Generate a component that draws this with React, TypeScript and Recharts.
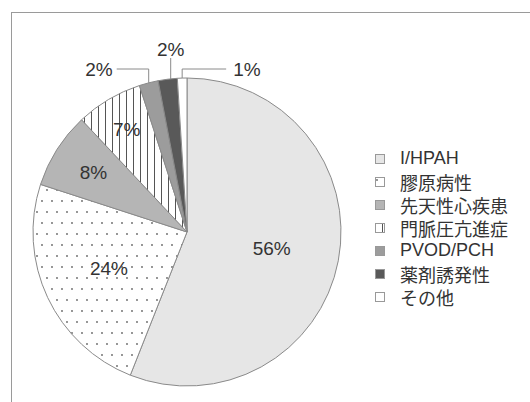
import { PieChart, Pie, Cell, Legend } from "recharts"

const categories = ["I/HPAH", "膠原病性", "先天性心疾患", "門脈圧亢進症", "PVOD/PCH", "薬剤誘発性", "その他"]
const shares = [56, 24, 8, 7, 2, 2, 1]

const fills = ["#e6e6e6", "url(#dots)", "#b5b5b5", "url(#stripes)", "#9c9c9c", "#595959", "#ffffff"]

const data = categories.map((name, i) => ({ name, value: shares[i] }))

const FONT = '"Liberation Sans", Arial, "Noto Sans CJK JP", sans-serif'
const RAD = Math.PI / 180
const insideRadius = [0.56, 0.56, 0.72, 0.77]

function renderLabel(props: any) {
  const { cx, cy, midAngle, outerRadius, index, value } = props
  const text = `${value}%`
  const style = { fontFamily: FONT, fontSize: 19, fill: "#333" }
  if (index < insideRadius.length) {
    const r = outerRadius * insideRadius[index]
    const x = cx + r * Math.cos(-midAngle * RAD)
    const y = cy + r * Math.sin(-midAngle * RAD)
    return (
      <text x={x} y={y} textAnchor="middle" dominantBaseline="central" style={style}>
        {text}
      </text>
    )
  }
  const px = cx + outerRadius * Math.cos(-midAngle * RAD)
  const py = cy + outerRadius * Math.sin(-midAngle * RAD)
  const elbowY = cy - outerRadius - 9
  if (index === 4) {
    const ex = px - 32
    return (
      <g>
        <polyline points={`${px},${py} ${px},${elbowY} ${ex},${elbowY}`} fill="none" stroke="#8a8a8a" />
        <text x={ex - 4} y={elbowY} textAnchor="end" dominantBaseline="central" style={style}>{text}</text>
      </g>
    )
  }
  if (index === 5) {
    const ey = cy - outerRadius - 20
    return (
      <g>
        <line x1={px + 3} y1={py} x2={px + 3} y2={ey} stroke="#8a8a8a" />
        <text x={px + 3} y={ey - 9} textAnchor="middle" dominantBaseline="central" style={style}>{text}</text>
      </g>
    )
  }
  const ex = px + 44
  return (
    <g>
      <polyline points={`${px},${py} ${px},${elbowY} ${ex},${elbowY}`} fill="none" stroke="#8a8a8a" />
      <text x={ex + 7} y={elbowY} textAnchor="start" dominantBaseline="central" style={style}>{text}</text>
    </g>
  )
}

function LegendList(props: any) {
  const items = [...(props.payload || [])].sort(
    (a: any, b: any) => categories.indexOf(a.value) - categories.indexOf(b.value)
  )
  return (
    <div style={{ fontFamily: FONT, fontSize: 18, color: "#333" }}>
      {items.map((it: any) => {
        const i = categories.indexOf(it.value)
        return (
          <div key={it.value} style={{ display: "flex", alignItems: "center", height: 23 }}>
            <svg width={10} height={10} style={{ marginRight: 15 }}>
              <rect x={0.5} y={0.5} width={9} height={9} fill={fills[i]} stroke="#999" />
            </svg>
            <span>{it.value}</span>
          </div>
        )
      })}
    </div>
  )
}

export default function App() {
  return (
    <div style={{ position: "absolute", left: 0, top: 0, width: 530, height: 402, background: "#fff" }}>
      <div
        style={{
          position: "absolute",
          left: 11,
          top: 12,
          right: 0,
          bottom: 0,
          borderLeft: "1px solid #9a9a9a",
          borderTop: "1px solid #9a9a9a",
        }}
      />
      <PieChart width={530} height={402} margin={{ top: 0, right: 0, bottom: 0, left: 0 }}>
        <defs>
          <pattern id="dots" patternUnits="userSpaceOnUse" width={10} height={22}>
            <rect width={10} height={22} fill="#fff" />
            <circle cx={2} cy={3} r={0.9} fill="#666" />
            <circle cx={7} cy={14} r={0.9} fill="#666" />
          </pattern>
          <pattern id="stripes" patternUnits="userSpaceOnUse" width={7} height={7}>
            <rect width={7} height={7} fill="#fff" />
            <line x1={0.5} y1={0} x2={0.5} y2={7} stroke="#555" strokeWidth={1} />
          </pattern>
        </defs>
        <Pie
          data={data}
          dataKey="value"
          nameKey="name"
          cx={187}
          cy={232}
          outerRadius={154}
          startAngle={90}
          endAngle={-270}
          stroke="#8a8a8a"
          strokeWidth={1}
          label={renderLabel}
          labelLine={false}
          isAnimationActive={false}
        >
          {data.map((d, i) => (
            <Cell key={d.name} fill={fills[i]} />
          ))}
        </Pie>
        <Legend
          layout="vertical"
          content={<LegendList />}
          wrapperStyle={{ position: "absolute", left: 375, top: 147, width: 150 }}
        />
      </PieChart>
    </div>
  )
}
